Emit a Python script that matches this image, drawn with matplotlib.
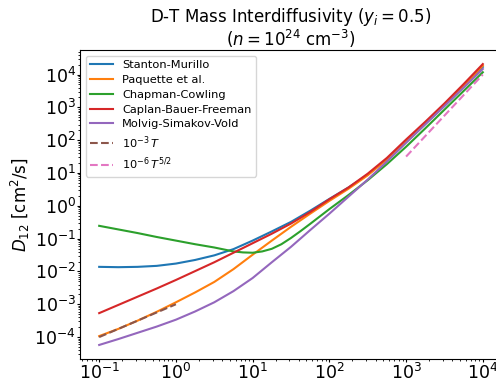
import numpy as np
import matplotlib
matplotlib.use('Agg')
import matplotlib.pyplot as plt
from matplotlib.ticker import LogLocator

# temperature grid (log10 of T), quarter decades from 0.1 to 1e4
log_T = [-1, -0.75, -0.5, -0.25, 0, 0.25, 0.5, 0.75, 1, 1.25, 1.5,
         1.75, 2, 2.25, 2.5, 2.75, 3, 3.25, 3.5, 3.75, 4]
# Chapman-Cowling has a broad minimum, read on a finer grid there
log_T_cc = [-1, -0.75, -0.5, -0.25, 0, 0.25, 0.5, 0.625, 0.75, 0.875, 1, 1.125,
            1.25, 1.375, 1.5, 1.625, 1.75, 2, 2.25, 2.5, 2.75, 3, 3.25, 3.5, 3.75, 4]

# log10 of D12 [cm^2/s]
log_D_sm = [-1.86, -1.87, -1.86, -1.83, -1.76, -1.65, -1.51, -1.32, -1.06, -0.78, -0.49,
            -0.15, 0.21, 0.56, 0.95, 1.42, 1.96, 2.5, 3.05, 3.63, 4.23]
log_D_paq = [-3.97, -3.75, -3.5, -3.23, -2.94, -2.64, -2.32, -1.93, -1.49, -1.06, -0.64,
             -0.24, 0.15, 0.52, 0.93, 1.41, 1.96, 2.52, 3.08, 3.66, 4.27]
log_D_cc = [-0.61, -0.72, -0.83, -0.95, -1.06, -1.17, -1.27, -1.33, -1.39, -1.42, -1.43, -1.39,
            -1.31, -1.17, -0.98, -0.77, -0.55, -0.1, 0.33, 0.78, 1.27, 1.8, 2.36, 2.93, 3.5, 4.07]
log_D_cbf = [-3.27, -3.02, -2.77, -2.52, -2.26, -1.99, -1.72, -1.43, -1.14, -0.85, -0.54,
             -0.19, 0.2, 0.56, 0.98, 1.46, 2.02, 2.56, 3.12, 3.71, 4.32]
log_D_msv = [-4.24, -4.06, -3.87, -3.68, -3.47, -3.22, -2.94, -2.6, -2.2, -1.72, -1.25,
             -0.74, -0.24, 0.28, 0.8, 1.35, 1.92, 2.48, 3.04, 3.6, 4.17]

# reference power laws
T_lin = [0.1, 1.0]
D_lin = [1e-4, 1e-3]          # 1e-3 T
T_52 = [1e3, 1e4]
D_52 = [10**1.5, 1e4]         # 1e-6 T^(5/2)

curves = [
    ('Stanton-Murillo', log_T, log_D_sm),
    ('Paquette et al.', log_T, log_D_paq),
    ('Chapman-Cowling', log_T_cc, log_D_cc),
    ('Caplan-Bauer-Freeman', log_T, log_D_cbf),
    ('Molvig-Simakov-Vold', log_T, log_D_msv),
]

fig = plt.figure(figsize=(4.96, 3.83), dpi=100)
ax = fig.add_axes([80 / 496, 24 / 383, 422 / 496, 309 / 383])

for name, lt, ld in curves:
    ax.plot(10.0 ** np.array(lt), 10.0 ** np.array(ld), lw=1.5, label=name)
ax.plot(T_lin, D_lin, '--', lw=1.5, color='C5', label=r'$10^{-3}\,T$')
ax.plot(T_52, D_52, '--', lw=1.5, color='C6', label=r'$10^{-6}\,T^{5/2}$')

ax.set_xscale('log')
ax.set_yscale('log')
# one label per decade on both axes
for axis in (ax.xaxis, ax.yaxis):
    axis.set_major_locator(LogLocator(base=10, numticks=20))
    axis.set_minor_locator(LogLocator(base=10, subs=np.arange(2, 10), numticks=20))

ax.set_ylabel(r'$D_{12}$ [cm$^2$/s]', fontsize=12, labelpad=2)
ax.set_title('D-T Mass Interdiffusivity ($y_i = 0.5$)\n($n = 10^{24}$ cm$^{-3}$)',
             fontsize=12, linespacing=1.0, pad=3)
ax.tick_params(axis='both', which='major', labelsize=12.5, length=2.5, pad=0.5)
ax.tick_params(axis='both', which='minor', length=1.5)
ax.legend(loc='upper left', fontsize=8.2, labelspacing=0.42)

fig.savefig('out.png', dpi=100)
